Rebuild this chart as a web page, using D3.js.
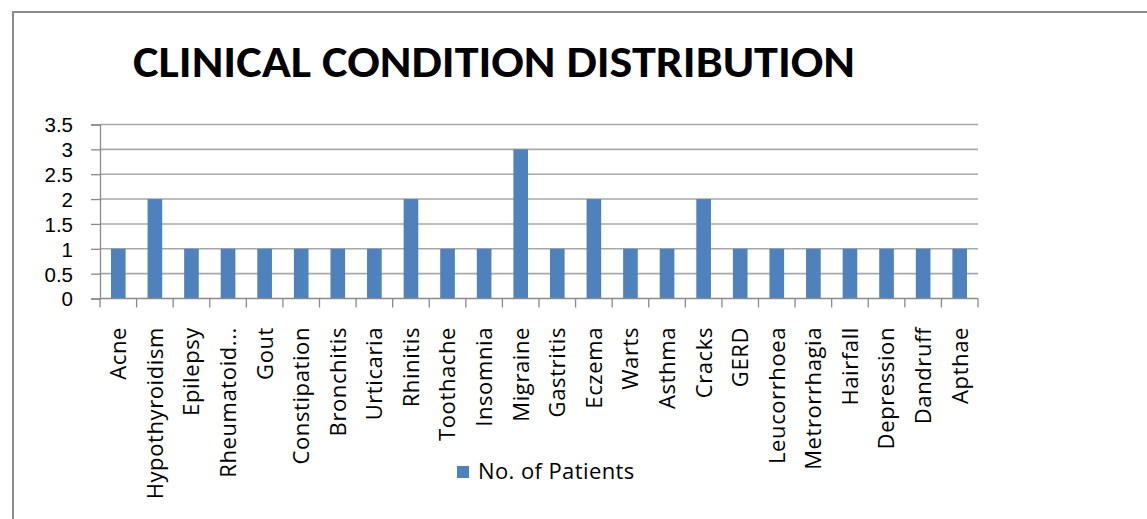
<!DOCTYPE html>
<html><head><meta charset="utf-8">
<script src="https://cdn.jsdelivr.net/npm/d3@7"></script>
<style>html,body{margin:0;padding:0;background:#fff;}</style>
</head><body>
<svg id="c" width="1147" height="519"></svg>
<script>
const categories = ["Acne","Hypothyroidism","Epilepsy","Rheumatoid...","Gout","Constipation","Bronchitis","Urticaria","Rhinitis","Toothache","Insomnia","Migraine","Gastritis","Eczema","Warts","Asthma","Cracks","GERD","Leucorrhoea","Metrorrhagia","Hairfall","Depression","Dandruff","Apthae"];
const patients = [1,2,1,1,1,1,1,1,2,1,1,3,1,2,1,1,2,1,1,1,1,1,1,1];
const yTicks = [0,0.5,1,1.5,2,2.5,3,3.5];
const seriesName = "No. of Patients";
const titleText = "CLINICAL CONDITION DISTRIBUTION";

(function(){
const svg = d3.select("#c");
const font = "'Open Sans', Lato, sans-serif";
const pLeft = 100, pRight = 978, pTop = 124.5, pBottom = 298.5;

// chart border
svg.append("path").attr("d","M13,519 L13,12 L1147,12").attr("fill","none").attr("stroke","#8a8a8a").attr("stroke-width",2);

svg.append("text").attr("x",133).attr("y",77).attr("font-family","Calibri, 'Open Sans', Lato, sans-serif")
  .attr("font-weight","bold").attr("font-size",44).attr("fill","#000")
  .attr("textLength",722).attr("lengthAdjust","spacingAndGlyphs").text(titleText);

const x = d3.scaleBand().domain(categories).range([pLeft,pRight]).paddingInner(0.6).paddingOuter(0.3);
const y = d3.scaleLinear().domain([0,3.5]).range([pBottom,pTop]);

// gridlines
svg.append("g").selectAll("line").data(yTicks.filter(d=>d>0)).join("line")
  .attr("x1",pLeft).attr("x2",pRight).attr("y1",d=>y(d)).attr("y2",d=>y(d))
  .attr("stroke","#a8a8a8").attr("stroke-width",1.6);

// bars
svg.append("g").selectAll("rect").data(categories).join("rect")
  .attr("x",d=>x(d)).attr("width",x.bandwidth())
  .attr("y",(d,i)=>y(patients[i])).attr("height",(d,i)=>y(0)-y(patients[i]))
  .attr("fill","#4F81BD");

// y axis
const yAxis = d3.axisLeft(y).tickValues(yTicks).tickSize(9).tickPadding(18).tickFormat(d3.format("~g"));
const gy = svg.append("g").attr("transform",`translate(${pLeft},0)`).call(yAxis);
gy.select(".domain").attr("stroke","#8a8a8a").attr("stroke-width",1.3);
gy.selectAll(".tick line").attr("stroke","#8a8a8a").attr("stroke-width",1.3);
gy.selectAll(".tick text").attr("font-family","'Liberation Sans', Arial, sans-serif").attr("font-size",20.5).attr("fill","#000").attr("dy","0.36em");

// x axis (ticks at category boundaries)
const step = x.step();
const bounds = d3.range(categories.length+1).map(i=>pLeft + i*step);
svg.append("line").attr("x1",pLeft).attr("x2",pRight).attr("y1",pBottom).attr("y2",pBottom).attr("stroke","#8a8a8a").attr("stroke-width",1.3);
svg.append("g").selectAll("line").data(bounds).join("line")
  .attr("x1",d=>d).attr("x2",d=>d).attr("y1",pBottom).attr("y2",pBottom+9).attr("stroke","#8a8a8a").attr("stroke-width",1.3);

svg.append("g").selectAll("text").data(categories).join("text")
  .attr("transform",d=>`translate(${x(d)+x.bandwidth()/2},327) rotate(-90)`)
  .attr("text-anchor","end").attr("dy","0.36em").attr("letter-spacing",0.6)
  .attr("font-family",font).attr("font-size",22).attr("fill","#000").text(d=>d);

// legend
svg.append("rect").attr("x",457).attr("y",466).attr("width",12).attr("height",12).attr("fill","#4F81BD");
svg.append("text").attr("x",478).attr("y",478.5).attr("font-family",font).attr("font-size",22).attr("letter-spacing",0.4).attr("fill","#000").text(seriesName);
})();
</script>
</body></html>
